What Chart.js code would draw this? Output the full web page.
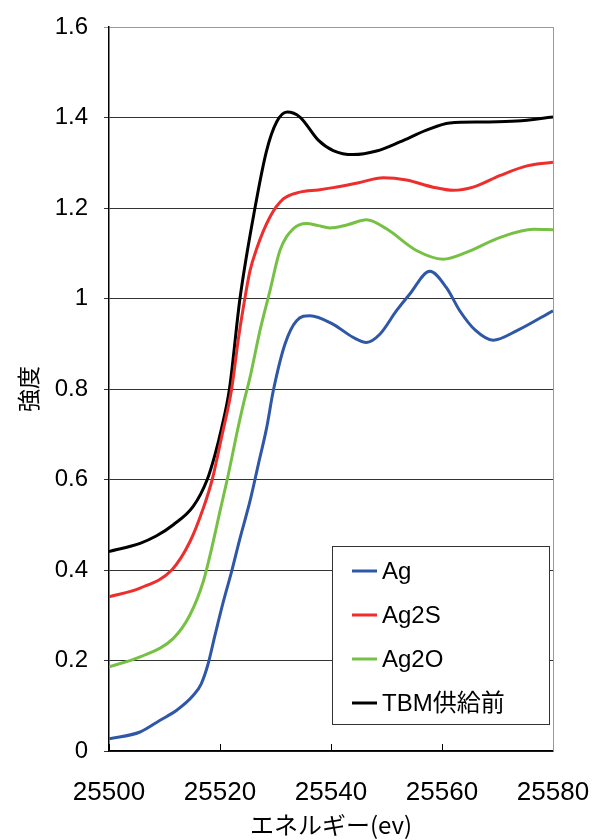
<!DOCTYPE html>
<html>
<head>
<meta charset="utf-8">
<script src="https://cdn.jsdelivr.net/npm/chart.js@4/dist/chart.umd.min.js"></script>
<style>
  body { margin: 0; background: #fff; }
  #xanesChart { display: block; }
</style>
</head>
<body>
<canvas id="xanesChart" width="593" height="840"></canvas>
<script>
// エネルギー(ev) と 強度 - 各系列ごとの読み取り値
const agE = [25500, 25505.6, 25509.2, 25512.2, 25515.2, 25516.6, 25517.8, 25519.1, 25520.6, 25522.1, 25523.6, 25525.4, 25526.9, 25528.4, 25529.6, 25531.7, 25533.8, 25536.2, 25540.4, 25544, 25546.4, 25548.8, 25551.8, 25554.2, 25557.8, 25560.8, 25563.2, 25566, 25569.2, 25573.5, 25580];
const agV = [0.027, 0.042, 0.068, 0.09, 0.123, 0.148, 0.19, 0.256, 0.33, 0.397, 0.47, 0.552, 0.633, 0.714, 0.796, 0.899, 0.951, 0.962, 0.943, 0.914, 0.903, 0.921, 0.973, 1.01, 1.06, 1.024, 0.973, 0.93, 0.908, 0.929, 0.973];

const ag2sE = [25500, 25505.6, 25511.3, 25514.6, 25517, 25518.6, 25520.4, 25522.1, 25523.3, 25524.2, 25525.4, 25526.6, 25529, 25531.4, 25534.4, 25537.7, 25540.4, 25545, 25549.4, 25553.6, 25558.4, 25562, 25565.6, 25570.5, 25575.3, 25580];
const ag2sV = [0.341, 0.36, 0.4, 0.463, 0.537, 0.6, 0.7, 0.8, 0.91, 0.98, 1.061, 1.11, 1.18, 1.22, 1.235, 1.24, 1.245, 1.256, 1.267, 1.262, 1.246, 1.239, 1.246, 1.272, 1.293, 1.301];

const ag2oE = [25500, 25505.6, 25511.6, 25514.6, 25517, 25518.5, 25520, 25521.5, 25523, 25524.2, 25525.4, 25527.2, 25529, 25530.8, 25533.2, 25535.6, 25537.7, 25539.8, 25543, 25546.4, 25550, 25555.4, 25560.2, 25564.4, 25570.5, 25576.5, 25580];
const ag2oV = [0.186, 0.208, 0.249, 0.301, 0.375, 0.448, 0.53, 0.611, 0.7, 0.766, 0.825, 0.929, 1.017, 1.106, 1.154, 1.166, 1.161, 1.156, 1.163, 1.174, 1.154, 1.106, 1.087, 1.102, 1.135, 1.153, 1.152];

const tbmE = [25500, 25505.6, 25508.5, 25511.6, 25515.2, 25517.7, 25519.1, 25520.3, 25521.7, 25523.6, 25526.3, 25528.4, 25530.2, 25532.1, 25534.4, 25537.7, 25540.4, 25544, 25548.2, 25552.4, 25557.2, 25561.4, 25567.4, 25573.5, 25580];
const tbmV = [0.441, 0.459, 0.475, 0.5, 0.541, 0.6, 0.655, 0.714, 0.8, 1.0, 1.2, 1.327, 1.39, 1.412, 1.401, 1.35, 1.327, 1.318, 1.326, 1.346, 1.372, 1.388, 1.39, 1.392, 1.401];

const seriesLabels = ['Ag', 'Ag2S', 'Ag2O', 'TBM供給前'];
const seriesColors = ['#2f57a8', '#ee2d2d', '#76c044', '#000000'];

const xTicks = [25500, 25520, 25540, 25560, 25580];
const yTicks = [0, 0.2, 0.4, 0.6, 0.8, 1, 1.2, 1.4, 1.6];

function toPoints(xs, ys) {
    return xs.map(function (x, i) { return { x: x, y: ys[i] }; });
}

// 凡例はグラフ内の右下に枠付きで描く
const boxLegend = {
    id: 'boxLegend',
    afterDatasetsDraw(chart) {
        const ctx = chart.ctx;
        const bx = 332, by = 546, bw = 217, bh = 178;
        ctx.save();
        ctx.fillStyle = '#fff';
        ctx.fillRect(bx, by, bw, bh);
        ctx.strokeStyle = '#333';
        ctx.lineWidth = 1;
        ctx.strokeRect(bx + 0.5, by + 0.5, bw, bh);
        ctx.font = '24px "Liberation Sans", "Noto Sans CJK JP", sans-serif';
        ctx.textBaseline = 'middle';
        chart.data.datasets.forEach(function (ds, i) {
            const cy = by + 25 + i * 44;
            ctx.strokeStyle = ds.borderColor;
            ctx.lineWidth = 3;
            ctx.beginPath();
            ctx.moveTo(bx + 20, cy);
            ctx.lineTo(bx + 45, cy);
            ctx.stroke();
            ctx.fillStyle = '#000';
            ctx.fillText(ds.label, bx + 50, cy + 1);
        });
        ctx.restore();
    },
    afterDraw(chart) {
        // x軸の内向き目盛りと右枠線
        const ctx = chart.ctx;
        const area = chart.chartArea;
        const xs = chart.scales.x;
        ctx.save();
        ctx.strokeStyle = '#000';
        ctx.lineWidth = 1;
        xTicks.forEach(function (v) {
            const px = Math.round(xs.getPixelForValue(v)) + 0.5;
            ctx.beginPath();
            ctx.moveTo(px, area.bottom);
            ctx.lineTo(px, area.bottom - 7);
            ctx.stroke();
        });
        ctx.strokeStyle = '#999';
        ctx.beginPath();
        ctx.moveTo(area.right + 0.5, area.top);
        ctx.lineTo(area.right + 0.5, area.bottom);
        ctx.stroke();
        ctx.restore();
    }
};

document.addEventListener('DOMContentLoaded', function () {
    const canvas = document.getElementById('xanesChart');
    const ctx = canvas.getContext('2d');
    const allE = [agE, ag2sE, ag2oE, tbmE];
    const allV = [agV, ag2sV, ag2oV, tbmV];

    new Chart(ctx, {
        type: 'line',
        data: {
            datasets: seriesLabels.map(function (label, i) {
                return {
                    label: label,
                    data: toPoints(allE[i], allV[i]),
                    borderColor: seriesColors[i],
                    backgroundColor: seriesColors[i],
                    borderWidth: 3,
                    pointRadius: 0,
                    fill: false,
                    cubicInterpolationMode: 'monotone'
                };
            })
        },
        options: {
            responsive: false,
            animation: false,
            layout: {
                padding: { left: 0, right: 40, top: 27, bottom: 0 }
            },
            plugins: {
                legend: { display: false },
                tooltip: { enabled: false }
            },
            scales: {
                x: {
                    type: 'linear',
                    min: 25500,
                    max: 25580,
                    afterFit: function (scale) {
                        scale.height = 89;
                        scale.paddingLeft = 0;
                        scale.paddingRight = 0;
                    },
                    afterBuildTicks: function (scale) {
                        scale.ticks = xTicks.map(function (v) { return { value: v }; });
                    },
                    grid: { display: false, drawTicks: false },
                    border: { display: true, color: '#000', width: 1.5 },
                    ticks: {
                        color: '#000',
                        padding: 26,
                        maxRotation: 0,
                        callback: function (v) { return String(v); },
                        font: { family: '"Liberation Sans", Arial, sans-serif', size: 26 }
                    },
                    title: {
                        display: true,
                        text: 'エネルギー(ev)',
                        color: '#000',
                        padding: { top: 0, bottom: 1 },
                        font: { family: '"Noto Sans CJK JP", sans-serif', size: 24 }
                    }
                },
                y: {
                    min: 0,
                    max: 1.6,
                    afterFit: function (scale) {
                        scale.width = 109;
                        scale.paddingTop = 0;
                        scale.paddingBottom = 0;
                    },
                    afterBuildTicks: function (scale) {
                        scale.ticks = yTicks.map(function (v) { return { value: v }; });
                    },
                    grid: {
                        color: function (c) {
                            return c.tick && c.tick.value === 1.6 ? '#999' : '#333';
                        },
                        lineWidth: 1,
                        tickLength: 5
                    },
                    border: { display: true, color: '#000', width: 1.5 },
                    ticks: {
                        color: '#000',
                        padding: 16,
                        callback: function (v) { return String(v); },
                        font: { family: '"Liberation Sans", Arial, sans-serif', size: 24 }
                    },
                    title: {
                        display: true,
                        text: '強度',
                        color: '#000',
                        padding: { top: 14, bottom: 0 },
                        font: { family: '"Noto Sans CJK JP", sans-serif', size: 23 }
                    }
                }
            }
        },
        plugins: [boxLegend]
    });
});
</script>
</body>
</html>
